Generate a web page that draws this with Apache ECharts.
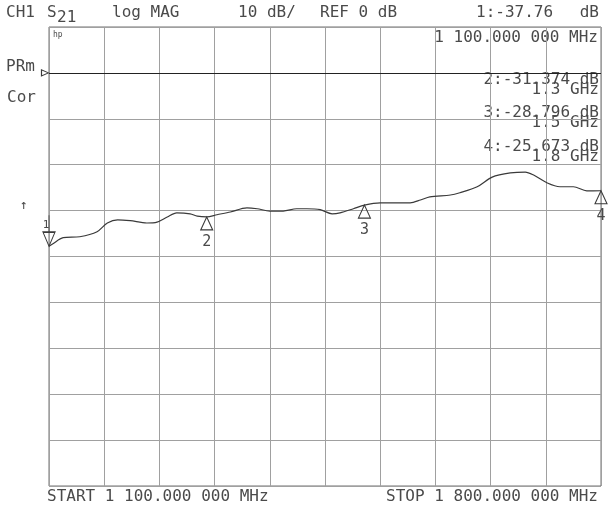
<!DOCTYPE html>
<html>
<head>
<meta charset="utf-8">
<script src="https://cdn.jsdelivr.net/npm/echarts@6/dist/echarts.min.js"></script>
<style>
  html, body { margin: 0; padding: 0; background: #fff; }
  #chart { width: 613px; height: 513px; }
</style>
</head>
<body>
<div id="chart"></div>
<script>
// ---- data ----
const freqGHz = [1.100, 1.105, 1.118, 1.139, 1.161, 1.174, 1.187, 1.203, 1.224, 1.237,
                 1.250, 1.262, 1.279, 1.288, 1.300, 1.313, 1.330, 1.351, 1.364, 1.380,
                 1.397, 1.414, 1.427, 1.444, 1.459, 1.469, 1.486, 1.500, 1.520, 1.541,
                 1.558, 1.571, 1.583, 1.609, 1.621, 1.643, 1.662, 1.685, 1.704, 1.714,
                 1.732, 1.748, 1.765, 1.782, 1.800];
const s21dB   = [-37.76, -37.2, -35.9, -35.7, -34.6, -32.7, -32.0, -32.2, -32.7, -32.5,
                 -31.4, -30.5, -30.7, -31.2, -31.374, -30.9, -30.3, -29.4, -29.6, -30.1,
                 -30.1, -29.6, -29.6, -29.8, -30.7, -30.5, -29.6, -28.796, -28.3, -28.3,
                 -28.3, -27.7, -27.0, -26.6, -26.1, -24.8, -22.7, -21.8, -21.6, -22.2,
                 -24.0, -24.8, -24.8, -25.7, -25.673];
const markerIds   = ['1', '2', '3', '4'];
const markerFreq  = [1.1, 1.3, 1.5, 1.8];
const markerDb    = [-37.76, -31.374, -28.796, -25.673];
const markerText  = ['1:-37.76', '2:-31.374 dB', '3:-28.796 dB', '4:-25.673 dB'];
const markerFreqText = ['1 100.000 000 MHz', '1.3 GHz', '1.5 GHz', '1.8 GHz'];
const yTicks = { min: -90, max: 10, step: 10 };
const xRange = { start: 1.1, stop: 1.8 };

const FONT = 'DejaVu Sans Mono';
const TXT = '#4a4a4a';
const chart = echarts.init(document.getElementById('chart'), null, { renderer: 'canvas' });

function t(text, x, y, opts) {
  opts = opts || {};
  return {
    type: 'text', x: x, y: y, silent: true,
    style: {
      text: text, fill: opts.fill || TXT,
      font: (opts.size || 16) + 'px "' + FONT + '"',
      textAlign: opts.align || 'left', textVerticalAlign: 'middle'
    }
  };
}

const upTri = 'path://M0,0 L6,13 L-6,13 Z';
const downTri1 = 'path://M0,0 L0,17 M-6,17 L6,17 L0,31 Z';

const markPts = markerIds.map((id, i) => {
  if (i === 0) {
    return {
      coord: [markerFreq[i], markerDb[i]],
      symbol: downTri1, symbolSize: [12, 31], symbolOffset: [0, '-50%'],
      label: { show: true, position: 'inside', formatter: id,
               color: TXT, fontFamily: FONT, fontSize: 11, offset: [-3, -6] }
    };
  }
  return {
    coord: [markerFreq[i], markerDb[i]],
    symbol: upTri, symbolSize: [12, 13], symbolOffset: [0, '50%'],
    label: { show: true, position: 'bottom', distance: -4, formatter: id,
             color: TXT, fontFamily: FONT, fontSize: 15, offset: [0, 8] }
  };
});

const option = {
  backgroundColor: '#ffffff',
  animation: false,
  grid: { left: 49, right: 12, top: 27, bottom: 27, show: true,
          borderColor: '#707070', borderWidth: 1, containLabel: false },
  xAxis: [
    { type: 'value', min: xRange.start, max: xRange.stop,
      axisLine: { show: false }, axisTick: { show: false },
      axisLabel: { show: false }, splitLine: { show: false } },
    { type: 'value', min: 0, max: 10, interval: 1, position: 'bottom',
      axisLine: { show: false }, axisTick: { show: false },
      axisLabel: { show: false },
      splitLine: { show: true, lineStyle: { color: '#a0a0a0', width: 1 } } }
  ],
  yAxis: { type: 'value', min: yTicks.min, max: yTicks.max, interval: yTicks.step,
           axisLine: { show: false }, axisTick: { show: false },
           axisLabel: { show: false },
           splitLine: { show: true, lineStyle: { color: '#a0a0a0', width: 1 } } },
  series: [{
    type: 'line', xAxisIndex: 0,
    data: freqGHz.map((f, i) => [f, s21dB[i]]),
    showSymbol: false, smooth: 0.3,
    lineStyle: { color: '#3a3a3a', width: 1.2 },
    markLine: {
      silent: true, symbol: 'none', label: { show: false },
      lineStyle: { color: '#222', width: 1.2, type: 'solid' },
      data: [{ yAxis: 0 }]
    },
    markPoint: {
      silent: true,
      itemStyle: { color: 'rgba(255,255,255,0)', borderColor: '#3a3a3a', borderWidth: 1.1 },
      data: markPts.concat([{
        coord: [xRange.start, 0], symbol: 'triangle', symbolRotate: -90,
        symbolSize: [6, 7], symbolOffset: [-4, 0], label: { show: false }
      }])
    }
  }],
  graphic: [
    t('CH1', 6, 13),
    t('S', 47, 13),
    t('21', 57, 18),
    t('log MAG', 112, 13),
    t('10 dB/', 238, 13),
    t('REF 0 dB', 320, 13),
    t(markerText[0], 476, 13),
    t('dB', 599, 13, { align: 'right' }),
    t('hp', 53, 35, { size: 8 }),
    t(markerFreqText[0], 598, 38, { align: 'right' }),
    t('PRm', 6, 67),
    t('Cor', 7, 98),
    t('↑', 20, 206, { size: 13 }),
    t(markerText[1], 599, 80, { align: 'right' }),
    t(markerFreqText[1], 599, 90, { align: 'right' }),
    t(markerText[2], 599, 113, { align: 'right' }),
    t(markerFreqText[2], 599, 123, { align: 'right' }),
    t(markerText[3], 599, 147, { align: 'right' }),
    t(markerFreqText[3], 599, 157, { align: 'right' }),
    t('START 1 100.000 000 MHz', 47, 497),
    t('STOP 1 800.000 000 MHz', 598, 497, { align: 'right' })
  ]
};
chart.setOption(option);
</script>
</body>
</html>
